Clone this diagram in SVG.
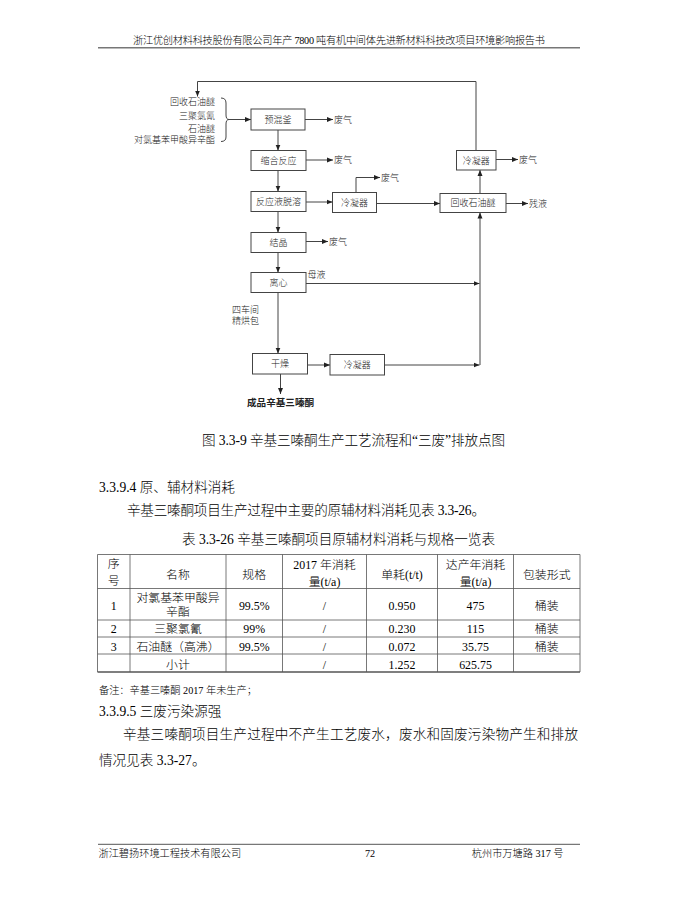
<svg xmlns="http://www.w3.org/2000/svg" width="673" height="916" viewBox="0 0 673 916">
<style>
.pg{font-family:"Liberation Serif","Noto Sans CJK SC",serif;fill:#000;font-weight:300}
.hd{font-size:10.2px}
.bd{font-size:13.6px}
.tb{font-size:11.9px;text-anchor:middle}
.dg{font-family:"Liberation Sans","Noto Sans CJK SC",sans-serif;font-size:9px;fill:#222;font-weight:300}
.c{text-anchor:middle}
.r{text-anchor:end}
.box{fill:#fff;stroke:#444;stroke-width:1}
.ln{fill:none;stroke:#444;stroke-width:1}
.tl{stroke:#555;stroke-width:0.8}
</style>
<defs>
<marker id="ah" markerUnits="userSpaceOnUse" markerWidth="6" markerHeight="6" refX="6" refY="3" orient="auto">
<path d="M0,0.5 L6,3 L0,5.5 z" fill="#222"/>
</marker>
</defs>
<rect width="673" height="916" fill="#fff"/>

<!-- header -->
<text class="pg hd" x="133" y="44" textLength="412" lengthAdjust="spacing">浙江优创材料科技股份有限公司年产 7800 吨有机中间体先进新材料科技改项目环境影响报告书</text>
<line x1="98" y1="47.7" x2="580" y2="47.7" stroke="#777" stroke-width="1.5"/>

<!-- connectors -->
<g id="connectors">
<polyline class="ln" points="476,150.5 476,81.5 197.5,81.5 197.5,96.5" marker-end="url(#ah)"/>
<path class="ln" d="M221,98 Q226,98 226,103 L226,115 Q226,119.5 229,119.5 Q226,119.5 226,124 L226,137 Q226,141.5 221,141.5"/>
<line class="ln" x1="229" y1="119.5" x2="251" y2="119.5" marker-end="url(#ah)"/>
<line class="ln" x1="305" y1="119.5" x2="333" y2="119.5" marker-end="url(#ah)"/>
<line class="ln" x1="278" y1="130" x2="278" y2="150.5" marker-end="url(#ah)"/>
<line class="ln" x1="306" y1="160" x2="333" y2="160" marker-end="url(#ah)"/>
<line class="ln" x1="278" y1="170.5" x2="278" y2="191.5" marker-end="url(#ah)"/>
<line class="ln" x1="306" y1="202" x2="332.5" y2="202" marker-end="url(#ah)"/>
<polyline class="ln" points="356,192.5 356,177.5 380,177.5" marker-end="url(#ah)"/>
<line class="ln" x1="376.5" y1="203.5" x2="440" y2="203.5" marker-end="url(#ah)"/>
<line class="ln" x1="506" y1="203.5" x2="528" y2="203.5" marker-end="url(#ah)"/>
<line class="ln" x1="480" y1="193.5" x2="480" y2="170" marker-end="url(#ah)"/>
<line class="ln" x1="496" y1="159.5" x2="518" y2="159.5" marker-end="url(#ah)"/>
<line class="ln" x1="278" y1="211.5" x2="278" y2="232.5" marker-end="url(#ah)"/>
<line class="ln" x1="306" y1="241.5" x2="328" y2="241.5" marker-end="url(#ah)"/>
<line class="ln" x1="278" y1="252.5" x2="278" y2="272.5" marker-end="url(#ah)"/>
<line class="ln" x1="306" y1="283.5" x2="479.5" y2="283.5" marker-end="url(#ah)"/>
<line class="ln" x1="278" y1="292.5" x2="278" y2="353.5" marker-end="url(#ah)"/>
<line class="ln" x1="480" y1="365" x2="480" y2="212.5" marker-end="url(#ah)"/>
<line class="ln" x1="307.5" y1="365" x2="330" y2="365" marker-end="url(#ah)"/>
<line class="ln" x1="384.5" y1="365" x2="479.5" y2="365" marker-end="url(#ah)"/>
<line class="ln" x1="280.5" y1="374" x2="280.5" y2="394" marker-end="url(#ah)"/>
</g>

<!-- input labels -->
<g id="inputs" class="dg r">
<text x="215" y="105">回收石油醚</text>
<text x="215" y="119.3">三聚氯氰</text>
<text x="215" y="131.6">石油醚</text>
<text x="215" y="142.6">对氯基苯甲酸异辛酯</text>
</g>

<g id="n-premix"><rect class="box" x="251" y="109" width="54" height="21"/><text class="dg c" x="278" y="122.8">预混釜</text></g>
<g id="n-condense"><rect class="box" x="251" y="150.5" width="55" height="20"/><text class="dg c" x="278.5" y="163.8">缩合反应</text></g>
<g id="n-desolv"><rect class="box" x="251" y="191.5" width="55" height="20"/><text class="dg c" x="278.5" y="204.8">反应液脱溶</text></g>
<g id="n-cryst"><rect class="box" x="251" y="232.5" width="55" height="20"/><text class="dg c" x="278.5" y="245.8">结晶</text></g>
<g id="n-centri"><rect class="box" x="251" y="272.5" width="55" height="20"/><text class="dg c" x="278.5" y="285.8">离心</text></g>
<g id="n-dry"><rect class="box" x="252.5" y="353.5" width="55" height="20.5"/><text class="dg c" x="280" y="367">干燥</text></g>
<g id="n-cond1"><rect class="box" x="332.5" y="192.5" width="44" height="20"/><text class="dg c" x="354.5" y="205.8">冷凝器</text></g>
<g id="n-cond2"><rect class="box" x="330" y="354.5" width="54.5" height="20.5"/><text class="dg c" x="357.2" y="368">冷凝器</text></g>
<g id="n-recover"><rect class="box" x="440" y="193.5" width="66" height="19"/><text class="dg c" x="473" y="206.3">回收石油醚</text></g>
<g id="n-cond3"><rect class="box" x="456.5" y="150.5" width="39.5" height="19.5"/><text class="dg c" x="476.2" y="163.5">冷凝器</text></g>

<g id="labels" class="dg">
<text x="334" y="122.8">废气</text>
<text x="334" y="163.3">废气</text>
<text x="381" y="180.8">废气</text>
<text x="519" y="162.8">废气</text>
<text x="529" y="206.8">残液</text>
<text x="329" y="244.8">废气</text>
<text x="307.5" y="278.3">母液</text>
<text x="232" y="313.3">四车间</text>
<text x="232" y="324">精烘包</text>
<text x="247" y="405.8" font-weight="bold" font-size="9.6">成品辛基三嗪酮</text>
</g>

<!-- body -->
<text class="pg bd" x="202" y="444.5" textLength="303" lengthAdjust="spacing">图 3.3-9 辛基三嗪酮生产工艺流程和“三废”排放点图</text>
<text class="pg bd" x="99" y="492">3.3.9.4 原、辅材料消耗</text>
<text class="pg bd" x="127" y="514.5" textLength="358" lengthAdjust="spacing">辛基三嗪酮项目生产过程中主要的原辅材料消耗见表 3.3-26。</text>
<text class="pg bd" x="182" y="543.5" textLength="313" lengthAdjust="spacing">表 3.3-26 辛基三嗪酮项目原辅材料消耗与规格一览表</text>

<!-- table -->
<g id="table">
<line class="tl" x1="97.5" y1="554.5" x2="580" y2="554.5"/>
<line class="tl" x1="97.5" y1="588.5" x2="580" y2="588.5"/>
<line class="tl" x1="97.5" y1="620" x2="580" y2="620"/>
<line class="tl" x1="97.5" y1="637" x2="580" y2="637"/>
<line class="tl" x1="97.5" y1="654" x2="580" y2="654"/>
<line x1="97.5" y1="672" x2="580" y2="672" stroke="#555" stroke-width="1.6"/>
<line class="tl" x1="97.5" y1="554.5" x2="97.5" y2="672"/>
<line class="tl" x1="130" y1="554.5" x2="130" y2="672"/>
<line class="tl" x1="226" y1="554.5" x2="226" y2="672"/>
<line class="tl" x1="282.5" y1="554.5" x2="282.5" y2="672"/>
<line class="tl" x1="366.5" y1="554.5" x2="366.5" y2="672"/>
<line class="tl" x1="437.5" y1="554.5" x2="437.5" y2="672"/>
<line class="tl" x1="513.5" y1="554.5" x2="513.5" y2="672"/>
<line class="tl" x1="580" y1="554.5" x2="580" y2="672"/>
<g class="pg tb">
<text x="113.75" y="567.5">序</text>
<text x="113.75" y="585">号</text>
<text x="178" y="578.5">名称</text>
<text x="254.25" y="578.5">规格</text>
<text x="324.5" y="569">2017 年消耗</text>
<text x="324.5" y="586">量(t/a)</text>
<text x="402" y="578.5">单耗(t/t)</text>
<text x="475.5" y="569">达产年消耗</text>
<text x="475.5" y="586">量(t/a)</text>
<text x="546.75" y="578.5">包装形式</text>

<text x="113.75" y="609.5">1</text>
<text x="178" y="601.5">对氯基苯甲酸异</text>
<text x="178" y="616">辛酯</text>
<text x="254.25" y="609.5">99.5%</text>
<text x="324.5" y="609.5">/</text>
<text x="402" y="609.5">0.950</text>
<text x="475.5" y="609.5">475</text>
<text x="546.75" y="609.5">桶装</text>

<text x="113.75" y="633">2</text>
<text x="178" y="633">三聚氯氰</text>
<text x="254.25" y="633">99%</text>
<text x="324.5" y="633">/</text>
<text x="402" y="633">0.230</text>
<text x="475.5" y="633">115</text>
<text x="546.75" y="633">桶装</text>

<text x="113.75" y="650.5">3</text>
<text x="178" y="650.5">石油醚（高沸）</text>
<text x="254.25" y="650.5">99.5%</text>
<text x="324.5" y="650.5">/</text>
<text x="402" y="650.5">0.072</text>
<text x="475.5" y="650.5">35.75</text>
<text x="546.75" y="650.5">桶装</text>

<text x="178" y="668.5">小计</text>
<text x="324.5" y="668.5">/</text>
<text x="402" y="668.5">1.252</text>
<text x="475.5" y="668.5">625.75</text>
</g>
</g>

<text class="pg hd" x="99" y="694">备注：辛基三嗪酮 2017 年未生产；</text>
<text class="pg bd" x="99" y="716">3.3.9.5 三废污染源强</text>
<text class="pg bd" x="123" y="738.5" textLength="455" lengthAdjust="spacing">辛基三嗪酮项目生产过程中不产生工艺废水，废水和固废污染物产生和排放</text>
<text class="pg bd" x="99" y="765">情况见表 3.3-27。</text>

<!-- footer -->
<line x1="98" y1="844.3" x2="580" y2="844.3" stroke="#555" stroke-width="1"/>
<text class="pg hd" x="98.5" y="856.5">浙江碧扬环境工程技术有限公司</text>
<text class="pg hd" x="370" y="856.5" text-anchor="middle">72</text>
<text class="pg hd" x="563.5" y="856.5" text-anchor="end">杭州市万塘路 317 号</text>
</svg>
